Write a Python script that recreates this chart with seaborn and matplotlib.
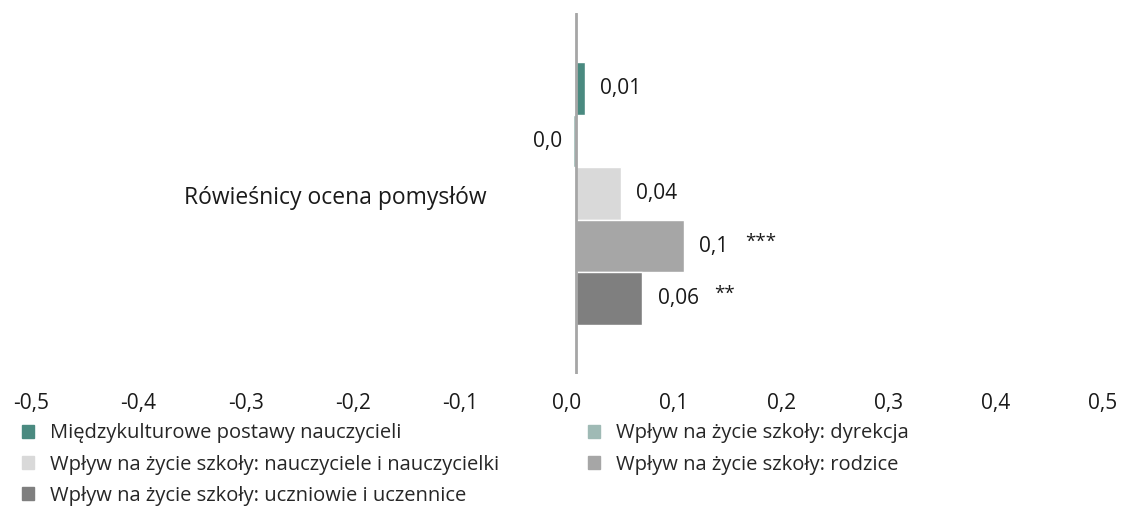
import matplotlib
matplotlib.use("Agg")
import matplotlib.pyplot as plt
import matplotlib.patches as mpatches
import matplotlib.transforms as mtransforms
import seaborn as sns
import pandas as pd

category = "Rówieśnicy ocena pomysłów"
series = [
    "Międzykulturowe postawy nauczycieli",
    "Wpływ na życie szkoły: dyrekcja",
    "Wpływ na życie szkoły: nauczyciele i nauczycielki",
    "Wpływ na życie szkoły: rodzice",
    "Wpływ na życie szkoły: uczniowie i uczennice",
]
values = [0.008, -0.003, 0.042, 0.101, 0.062]
value_labels = ["0,01", "0,0", "0,04", "0,1", "0,06"]
stars = ["", "", "", "***", "**"]
colors = ["#4a8a80", "#9fbab5", "#d9d9d9", "#a6a6a6", "#7f7f7f"]
xticks = [-0.5, -0.4, -0.3, -0.2, -0.1, 0.0, 0.1, 0.2, 0.3, 0.4, 0.5]
xtick_labels = ["-0,5", "-0,4", "-0,3", "-0,2", "-0,1", "0,0", "0,1", "0,2", "0,3", "0,4", "0,5"]

df = pd.DataFrame({"cat": [category] * len(series), "series": series, "value": values})

sns.set_style("white")
plt.rcParams["font.family"] = ["Open Sans", "DejaVu Sans"]
FS = 14.5
TXT = "#1a1a1a"

fig = plt.figure(figsize=(11.21, 5.07), dpi=100)
ax = fig.add_axes([0.0361, 0.2623, 0.9554, 0.712])

sns.barplot(data=df, x="value", y="cat", hue="series", orient="h",
            palette=colors, width=0.727, saturation=1, legend=False, ax=ax)

ax.set_xlim(-0.5, 0.5)
ax.axvline(0, color="#a6a6a6", lw=2, zorder=5)

# value labels next to each bar
for bar, v, lab, st in zip(ax.patches, values, value_labels, stars):
    yc = bar.get_y() + bar.get_height() / 2
    if v >= 0:
        ax.annotate(lab, (v, yc), xytext=(11, 0), textcoords="offset points",
                    ha="left", va="center", fontsize=FS + 0.5, color=TXT)
        if st:
            off = 11 + (33 if len(lab) == 3 else 41)
            ax.annotate(st, (v, yc), xytext=(off, 3), textcoords="offset points",
                        ha="left", va="center", fontsize=FS - 1, color=TXT)
    else:
        ax.annotate(lab, (v, yc), xytext=(-8, 0), textcoords="offset points",
                    ha="right", va="center", fontsize=FS + 0.5, color=TXT)

# category label sits inside the plot, left of the zero line
ax.text(0.417, 0.012, category,
        transform=mtransforms.blended_transform_factory(ax.transAxes, ax.transData),
        ha="right", va="center", fontsize=16.5, color=TXT)
ax.set_yticks([])

ax.set_xticks(xticks)
ax.set_xticklabels(xtick_labels, fontsize=FS + 0.5, color=TXT)
ax.tick_params(axis="x", length=0, pad=14)
shift = mtransforms.ScaledTranslation(-9 / 100, 0, fig.dpi_scale_trans)
for lbl in ax.get_xticklabels():
    lbl.set_transform(lbl.get_transform() + shift)
ax.set_xlabel("")
ax.set_ylabel("")
for s in ax.spines.values():
    s.set_visible(False)

# legend filled row-wise like the original
handles = [mpatches.Patch(color=c, label=s) for c, s in zip(colors, series)]
order = [0, 2, 4, 1, 3]
fig.legend([handles[i] for i in order], [series[i] for i in order],
           loc="upper left", bbox_to_anchor=(0.012, 0.181), ncol=2, frameon=False,
           fontsize=FS, handlelength=0.62, handleheight=0.62, handletextpad=0.8,
           columnspacing=4.4, labelspacing=0.56, borderaxespad=0)

fig.savefig("out.png", dpi=100)
